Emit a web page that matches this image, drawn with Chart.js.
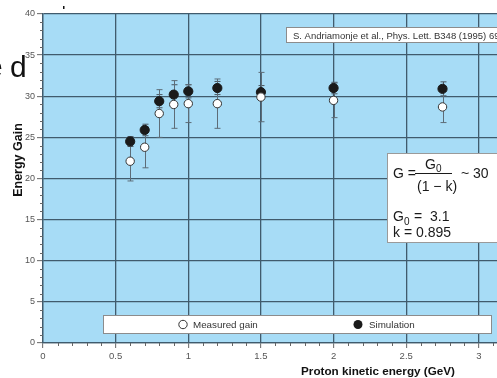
<!DOCTYPE html>
<html>
<head>
<meta charset="utf-8">
<title>Energy Gain</title>
<script src="https://cdn.jsdelivr.net/npm/chart.js@4.4.1/dist/chart.umd.min.js"></script>
<style>
  html, body { margin: 0; padding: 0; background: #ffffff; overflow: hidden; }
  #wrap { position: relative; width: 497px; height: 378px; }
</style>
</head>
<body>
<div id="wrap">
  <canvas id="gainChart" width="497" height="378"></canvas>
</div>
<script>
// Data
const energy = [0.6, 0.7, 0.8, 0.9, 1.0, 1.2, 1.5, 2.0, 2.75];        // GeV
const measured = [22.1, 23.8, 27.9, 29.0, 29.1, 29.1, 29.9, 29.5, 28.7];
const measuredErr = [2.4, 2.5, 2.9, 2.9, 2.3, 3.0, 3.0, 2.1, 1.9];
const simulation = [24.5, 25.9, 29.4, 30.2, 30.6, 31.0, 30.5, 31.0, 30.9];
const simulationErr = [0.6, 0.7, 0.8, 1.2, 0.8, 0.8, 0.8, 0.7, 0.85];

const xTicks = [0, 0.5, 1, 1.5, 2, 2.5, 3];
const yTicks = [0, 5, 10, 15, 20, 25, 30, 35, 40];

const seriesLabels = ["Measured gain", "Simulation"];
const citation = "S. Andriamonje et al., Phys. Lett. B348 (1995) 697";

const FONT = "'Liberation Sans', Arial, Helvetica, sans-serif";
const gridColor = "#405b6d";
const tickColor = "#666666";
const labelColor = "#555555";

// blue plot background + minor ticks
const plotBackground = {
    id: "plotBackground",
    beforeDraw(chart) {
        const { ctx, chartArea } = chart;
        ctx.save();
        ctx.fillStyle = "#a7dcf6";
        ctx.fillRect(chartArea.left, chartArea.top, chartArea.right - chartArea.left, chartArea.bottom - chartArea.top);
        ctx.restore();
    },
    afterDraw(chart) {
        const { ctx, chartArea, scales } = chart;
        ctx.save();
        ctx.strokeStyle = tickColor;
        ctx.lineWidth = 1;
        ctx.beginPath();
        for (let v = 1; v < 40; v++) {
            if (v % 5 === 0) continue;
            let y = Math.round(scales.y.getPixelForValue(v)) + 0.5;
            ctx.moveTo(chartArea.left - 3, y);
            ctx.lineTo(chartArea.left, y);
        }
        for (let i = 1; i <= 31; i++) {
            if (i % 5 === 0) continue;
            let x = Math.round(scales.x.getPixelForValue(i / 10)) + 0.5;
            if (x > chartArea.right) break;
            ctx.moveTo(x, chartArea.bottom);
            ctx.lineTo(x, chartArea.bottom + 3);
        }
        ctx.stroke();
        ctx.restore();
    }
};

// vertical error bars with small caps
const errorBars = {
    id: "errorBars",
    beforeDatasetsDraw(chart) {
        const { ctx, scales } = chart;
        const sets = [
            { vals: simulation, errs: simulationErr, color: "#4a5660" },
            { vals: measured, errs: measuredErr, color: "#5d6c77" }
        ];
        ctx.save();
        ctx.lineWidth = 1;
        sets.forEach(s => {
            ctx.strokeStyle = s.color;
            energy.forEach((e, i) => {
                let x = Math.round(scales.x.getPixelForValue(e)) + 0.5;
                let yTop = scales.y.getPixelForValue(s.vals[i] + s.errs[i]);
                let yBot = scales.y.getPixelForValue(s.vals[i] - s.errs[i]);
                ctx.beginPath();
                ctx.moveTo(x, yTop);
                ctx.lineTo(x, yBot);
                ctx.moveTo(x - 3, yTop);
                ctx.lineTo(x + 3, yTop);
                ctx.moveTo(x - 3, yBot);
                ctx.lineTo(x + 3, yBot);
                ctx.stroke();
            });
        });
        ctx.restore();
    }
};

// boxes, legend, axis titles and the stray scan marks
const annotations = {
    id: "annotations",
    afterDraw(chart) {
        const ctx = chart.ctx;
        ctx.save();

        // citation box
        ctx.fillStyle = "#ffffff";
        ctx.strokeStyle = "#8c8c8c";
        ctx.lineWidth = 1;
        ctx.fillRect(286.5, 27.5, 230, 15);
        ctx.strokeRect(286.5, 27.5, 230, 15);
        ctx.fillStyle = "#333333";
        ctx.font = "9.5px " + FONT;
        ctx.textBaseline = "alphabetic";
        ctx.fillText(citation, 293, 38.5);

        // formula box
        ctx.fillStyle = "#ffffff";
        ctx.fillRect(387.5, 153.5, 140, 89);
        ctx.strokeStyle = "#9a9a9a";
        ctx.strokeRect(387.5, 153.5, 140, 89);
        ctx.fillStyle = "#1a1a1a";
        ctx.font = "14px " + FONT;
        ctx.fillText("G =", 393, 178);
        ctx.fillText("G", 425, 169);
        ctx.font = "10px " + FONT;
        ctx.fillText("0", 436, 172);
        ctx.font = "14px " + FONT;
        ctx.fillText("(1 \u2212 k)", 417, 191);
        ctx.fillText("~ 30", 461, 178);
        ctx.fillRect(415, 173, 37, 1);
        ctx.fillText("G", 393, 221);
        ctx.font = "10px " + FONT;
        ctx.fillText("0", 404, 225);
        ctx.font = "14px " + FONT;
        ctx.fillText("=  3.1", 414, 221);
        ctx.fillText("k = 0.895", 393, 237);

        // legend box
        ctx.fillStyle = "#ffffff";
        ctx.fillRect(103.5, 315.5, 388, 18);
        ctx.strokeStyle = "#8c8c8c";
        ctx.strokeRect(103.5, 315.5, 388, 18);
        ctx.beginPath();
        ctx.arc(183, 324.5, 4.2, 0, Math.PI * 2);
        ctx.fillStyle = "#ffffff";
        ctx.fill();
        ctx.strokeStyle = "#333333";
        ctx.stroke();
        ctx.beginPath();
        ctx.arc(358, 324.5, 4.5, 0, Math.PI * 2);
        ctx.fillStyle = "#1a1a1a";
        ctx.fill();
        ctx.fillStyle = "#333333";
        ctx.font = "9.8px " + FONT;
        ctx.fillText(chart.data.datasets[0].label, 193, 328);
        ctx.fillText(chart.data.datasets[1].label, 369, 328);

        // axis titles
        ctx.fillStyle = "#111111";
        ctx.font = "bold 11.7px " + FONT;
        ctx.textAlign = "center";
        ctx.fillText("Proton kinetic energy (GeV)", 378, 375);
        ctx.save();
        ctx.translate(22, 160);
        ctx.rotate(-Math.PI / 2);
        ctx.font = "bold 12.5px " + FONT;
        ctx.fillText("Energy Gain", 0, 0);
        ctx.restore();

        // scan leftovers at top left (clipped word)
        ctx.textAlign = "left";
        ctx.font = "30px " + FONT;
        ctx.fillText("e", -14, 77);
        ctx.fillText("d", 10, 77);
        ctx.fillRect(63, 6, 1.5, 3);

        ctx.restore();
    }
};

let gainChart = new Chart(document.getElementById("gainChart").getContext("2d"), {
    type: "scatter",
    data: {
        datasets: [
            {
                label: seriesLabels[0],
                data: energy.map((e, i) => ({ x: e, y: measured[i] })),
                pointRadius: 4.2,
                pointBackgroundColor: "#ffffff",
                pointBorderColor: "#333333",
                pointBorderWidth: 1
            },
            {
                label: seriesLabels[1],
                data: energy.map((e, i) => ({ x: e, y: simulation[i] })),
                pointRadius: 4.6,
                pointBackgroundColor: "#1a1a1a",
                pointBorderColor: "#1a1a1a",
                pointBorderWidth: 1
            }
        ]
    },
    options: {
        responsive: false,
        animation: false,
        layout: { autoPadding: false, padding: { top: 14, left: 0, right: 0, bottom: 0 } },
        plugins: {
            legend: { display: false },
            tooltip: { enabled: false }
        },
        scales: {
            x: {
                type: "linear",
                min: 0,
                max: 3.125,
                afterBuildTicks: scale => { scale.ticks = xTicks.map(v => ({ value: v })); },
                afterFit: scale => {
                    scale.height = 35;
                    scale.paddingLeft = 0;
                    scale.paddingRight = 0;
                },
                ticks: {
                    color: labelColor,
                    font: { family: FONT, size: 9.5 },
                    padding: 3,
                    maxRotation: 0,
                    callback: v => String(v)
                },
                grid: {
                    color: gridColor,
                    lineWidth: 1.3,
                    tickColor: tickColor,
                    tickLength: 5,
                    tickWidth: 1
                },
                border: { display: true, color: gridColor, width: 1.3 }
            },
            y: {
                type: "linear",
                min: 0,
                max: 40,
                afterBuildTicks: scale => { scale.ticks = yTicks.map(v => ({ value: v })); },
                afterFit: scale => {
                    scale.width = 43;
                    scale.paddingTop = 0;
                    scale.paddingBottom = 0;
                },
                ticks: {
                    color: labelColor,
                    font: { family: FONT, size: 9 },
                    padding: 2
                },
                grid: {
                    color: gridColor,
                    lineWidth: 1.3,
                    tickColor: tickColor,
                    tickLength: 6,
                    tickWidth: 1
                },
                border: { display: true, color: gridColor, width: 1.3 }
            }
        }
    },
    plugins: [plotBackground, errorBars, annotations]
});
</script>
</body>
</html>
